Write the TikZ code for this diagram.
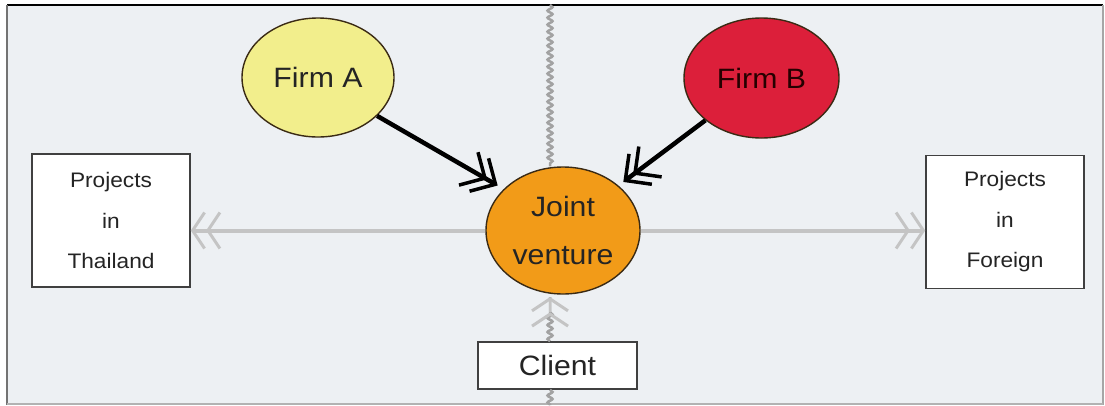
\documentclass[tikz,border=0pt]{standalone}
\usepackage{fontspec}
\setmainfont{Liberation Sans}
\newfontfamily\labelfont[FakeStretch=1.08]{Liberation Sans}
\usetikzlibrary{arrows.meta,decorations.pathmorphing,shapes.geometric}
\definecolor{panel}{HTML}{EDF0F3}
\definecolor{firmayellow}{HTML}{F2EE8C}
\definecolor{firmbred}{HTML}{DC1F3A}
\definecolor{jvorange}{HTML}{F29B18}
\definecolor{rimdark}{HTML}{3A2A14}
\definecolor{flowgray}{HTML}{C4C4C4}
\definecolor{wavegray}{HTML}{A2A2A2}
\definecolor{inkgray}{HTML}{242424}
\begin{document}
\begin{tikzpicture}[x=1pt,y=-1pt,
  party/.style={ellipse,draw=rimdark,line width=1.4pt,inner sep=0pt,
    text=inkgray,align=center,font=\labelfont\fontsize{28}{48}\selectfont},
  projbox/.style={rectangle,draw=black!75,line width=1.6pt,fill=white,
    minimum width=158,minimum height=133,inner sep=0pt,align=center,
    text=inkgray,font=\labelfont\fontsize{21}{40.5}\selectfont},
  clientbox/.style={rectangle,draw=black!75,line width=1.6pt,fill=white,
    minimum width=159,minimum height=47,inner sep=0pt,
    text=inkgray,font=\labelfont\fontsize{28}{34}\selectfont},
  chevrons/.style={-{Straight Barb[length=12pt,width=36pt,line width=3pt,sep=0pt]
    Straight Barb[length=12pt,width=36pt,line width=3pt]}},
  flow/.style={draw=flowgray,line width=4pt,chevrons},
  feed/.style={draw=black,line width=4.5pt,
    -{Straight Barb[length=19pt,width=38pt,line width=3.5pt,sep=-11pt]
    Straight Barb[length=19pt,width=38pt,line width=3.5pt]}},
  wave/.style={draw=wavegray,line width=2.5pt,
    decorate,decoration={snake,segment length=7pt,amplitude=2.5pt}}
]
% page and panel
\useasboundingbox (0,0) rectangle (1105,405);
\fill[white] (0,0) rectangle (1105,405);
\fill[panel] (7,5) rectangle (1103,405);
\draw[black,line width=1.6pt] (7,5) -- (1103,5);
\draw[black!55,line width=2.6pt] (7,5) -- (7,405);
\draw[black!35,line width=2pt] (1103,5) -- (1103,405);
\draw[black!30,line width=1.5pt] (7,404) -- (1103,404);

% the two firms and their joint venture
\node[party,fill=firmayellow,minimum width=152,minimum height=119] (fa) at (318,77.5) {Firm A};
\node[party,fill=firmbred,text=black!85!red,minimum width=155,minimum height=120] (fb) at (761.5,78) {Firm B};
\node[party,fill=jvorange,minimum width=154,minimum height=127] (jv) at (563,230.5) {Joint\\venture};

% project boxes and client
\node[projbox] (thai) at (111,220.5) {Projects\\in\\Thailand};
\node[projbox] (forn) at (1005,222) {Projects\\in\\Foreign};
\node[clientbox] (client) at (557.5,365.5) {Client};

% vertical dividing wave
\coordinate (wx) at (550,5);
\draw[wave] (wx) -- (wx |- jv.north);
\draw[wave] (client.south -| wx) -- (550,405);
\draw[wave,decoration={snake,segment length=7pt,amplitude=2.5pt,post length=14pt}]
  (client.north -| wx) -- (550,297);
\draw[draw=flowgray,line width=2.5pt,chevrons] (550,312) -- (550,297);

% flows out to the project markets
\draw[flow] (jv.west) -- (jv.west -| thai.east);
\draw[flow] (jv.east) -- (jv.east -| forn.west);

% contributions of the partner firms
\draw[feed,shorten >=7pt] (fa.-33) -- (jv.145);
\draw[feed,shorten >=6pt] (fb.-143) -- (jv.39);
\end{tikzpicture}
\end{document}
